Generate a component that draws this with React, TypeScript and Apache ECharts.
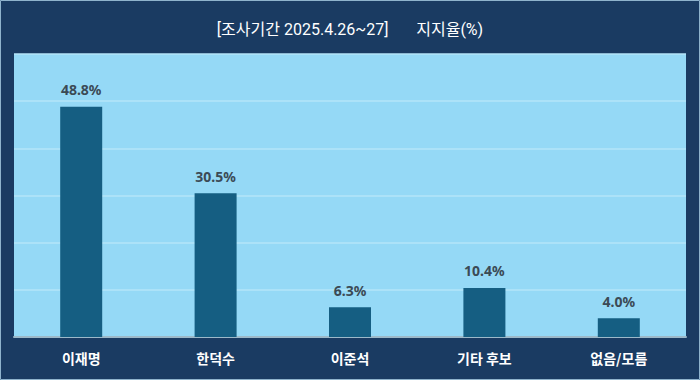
import React, { useEffect, useRef } from "react";
import * as echarts from "echarts";

const categories = ["이재명", "한덕수", "이준석", "기타 후보", "없음/모름"];
const values = [48.8, 30.5, 6.3, 10.4, 4.0];
const titlePeriod = "[조사기간 2025.4.26~27]";
const titleMetric = "지지율(%)";

export default function App() {
  const ref = useRef<HTMLDivElement>(null);
  useEffect(() => {
    if (!ref.current) return;
    const chart = echarts.init(ref.current, undefined, { renderer: "svg" });
    chart.setOption({
      animation: false,
      backgroundColor: "#1a3b62",
      title: {
        text: titlePeriod + "       " + titleMetric,
        left: "center",
        top: 16,
        textStyle: {
          color: "#ffffff",
          fontSize: 16,
          fontWeight: "normal",
          fontFamily: "Roboto, 'Noto Sans CJK KR', sans-serif",
        },
      },
      graphic: [
        {
          type: "rect",
          shape: { x: 0.5, y: 0.5, width: 699, height: 379 },
          style: { fill: "none", stroke: "#8fb3cc", lineWidth: 1 },
          silent: true,
        },
      ],
      grid: {
        left: 14,
        right: 14,
        top: 54,
        bottom: 43,
        show: true,
        backgroundColor: "#95d9f6",
        borderWidth: 0,
      },
      xAxis: {
        type: "category",
        data: categories,
        axisTick: { show: false },
        axisLine: { show: true, lineStyle: { color: "#9cb9c9", width: 2 } },
        axisLabel: {
          color: "#ffffff",
          fontSize: 14,
          fontWeight: "bold",
          margin: 14,
          fontFamily: "'Noto Sans CJK KR', sans-serif",
        },
      },
      yAxis: {
        type: "value",
        min: 0,
        max: 60,
        interval: 10,
        axisLabel: { show: false },
        axisLine: { show: false },
        axisTick: { show: false },
        splitLine: { show: true, lineStyle: { color: "#b5e5f8", width: 1.5 } },
      },
      series: [
        {
          type: "bar",
          data: values,
          barWidth: 42,
          itemStyle: { color: "#155e82" },
          label: {
            show: true,
            position: "top",
            distance: 10,
            formatter: (p: any) => p.value.toFixed(1) + "%",
            color: "#3b4a55",
            fontSize: 14,
            fontWeight: "bold",
            fontFamily: "'Noto Sans', sans-serif",
          },
        },
      ],
    });
    return () => chart.dispose();
  }, []);
  return (
    <div
      ref={ref}
      style={{ position: "fixed", left: 0, top: 0, width: 700, height: 380 }}
    />
  );
}
